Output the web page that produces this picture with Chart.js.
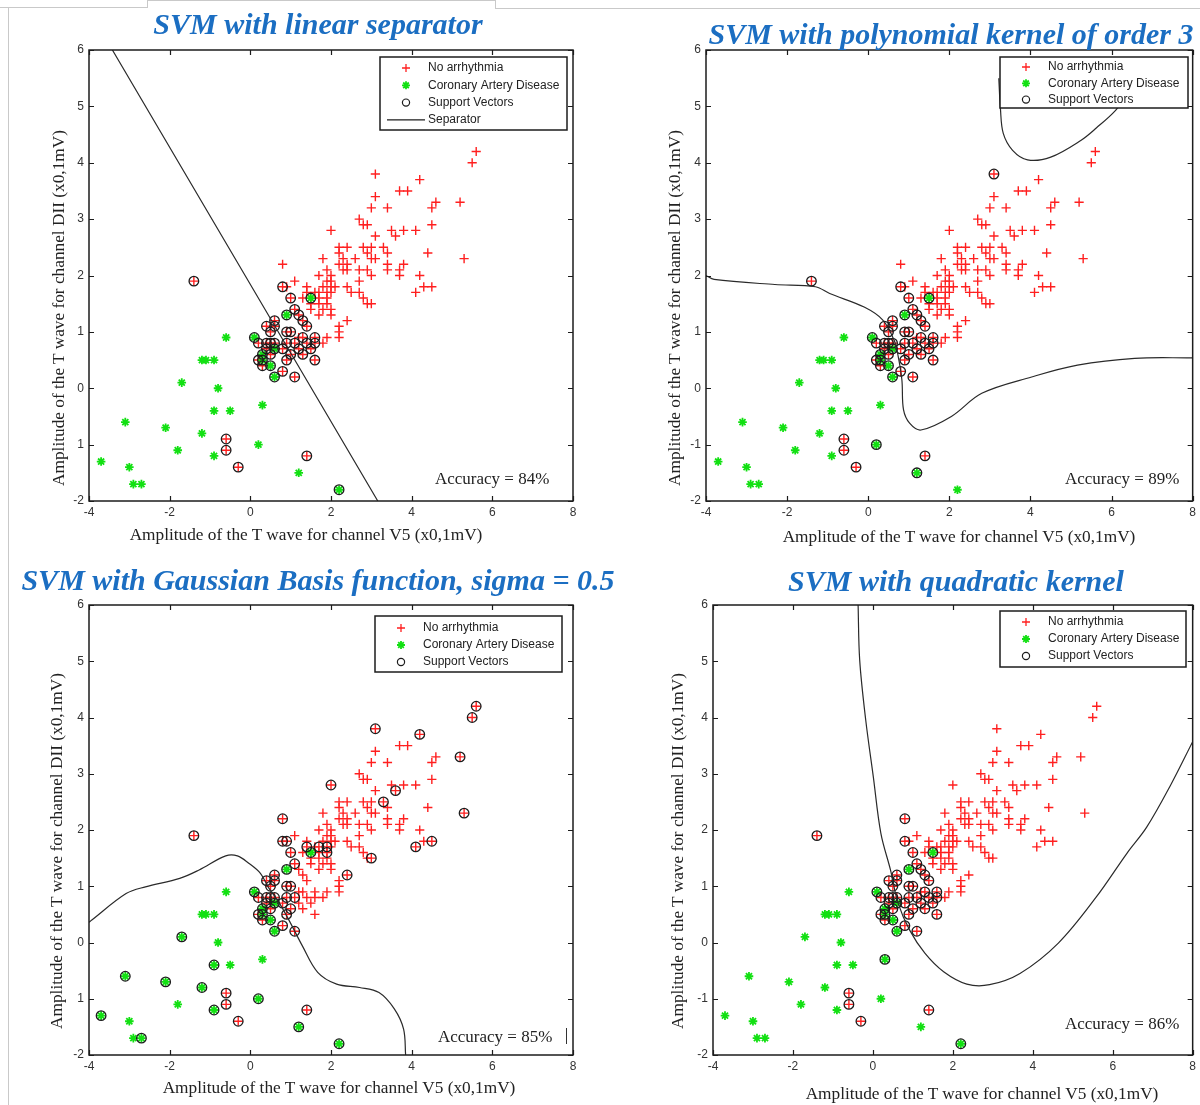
<!DOCTYPE html>
<html>
<head>
<meta charset="utf-8">
<script src="https://cdn.jsdelivr.net/npm/chart.js@4.4.1/dist/chart.umd.min.js"></script>
<style>
  html, body { margin: 0; padding: 0; background: #fff; }
  #page { position: relative; width: 1200px; height: 1105px; overflow: hidden; background: #fff; }
  canvas { position: absolute; left: 0; top: 0; }
  .ttl { position: absolute; width: 700px; text-align: center; font: italic bold 30px "Liberation Serif", "DejaVu Serif", serif; color: #1b6ec2; line-height: 1; white-space: nowrap; }
  .acc { position: absolute; font: 17px "Liberation Serif", serif; color: #222; line-height: 1; white-space: nowrap; }
  .ax { position: absolute; width: 500px; height: 20px; line-height: 20px; text-align: center; font: 17.3px "Liberation Serif", "Times New Roman", serif; color: #222; white-space: nowrap; }
  .ax.v { transform: rotate(-90deg); }
  .frame { position: absolute; background: #c9c9c9; }
</style>
</head>
<body>
<div id="page">
  <canvas id="c1" width="1200" height="1130"></canvas>
  <canvas id="c2" width="1200" height="1130"></canvas>
  <canvas id="c3" width="1200" height="1130"></canvas>
  <canvas id="c4" width="1200" height="1130"></canvas>

  <!-- document frame lines around the screenshot -->
  <div class="frame" style="left:0;top:7px;width:147px;height:1px"></div>
  <div class="frame" style="left:147px;top:0;width:1px;height:8px"></div>
  <div class="frame" style="left:147px;top:0;width:348px;height:1px"></div>
  <div class="frame" style="left:495px;top:0;width:1px;height:8px"></div>
  <div class="frame" style="left:495px;top:8px;width:705px;height:1px"></div>
  <div class="frame" style="left:8px;top:8px;width:1px;height:1097px"></div>

  <div class="ttl" style="left:-32px;top:9px">SVM with linear separator</div>
  <div class="ttl" style="left:601px;top:19px">SVM with polynomial kernel of order 3</div>
  <div class="ttl" style="left:-32px;top:565px">SVM with Gaussian Basis function, sigma = 0.5</div>
  <div class="ttl" style="left:606px;top:566px">SVM with quadratic kernel</div>

  <div class="ax" style="left:56px;top:525px">Amplitude of the T wave for channel V5 (x0,1mV)</div>
  <div class="ax" style="left:709px;top:527px">Amplitude of the T wave for channel V5 (x0,1mV)</div>
  <div class="ax" style="left:89px;top:1078px">Amplitude of the T wave for channel V5 (x0,1mV)</div>
  <div class="ax" style="left:732px;top:1084px">Amplitude of the T wave for channel V5 (x0,1mV)</div>
  <div class="ax v" style="left:-191px;top:298px">Amplitude of the T wave for channel DII (x0,1mV)</div>
  <div class="ax v" style="left:425px;top:298px">Amplitude of the T wave for channel DII (x0,1mV)</div>
  <div class="ax v" style="left:-193px;top:841px">Amplitude of the T wave for channel DII (x0,1mV)</div>
  <div class="ax v" style="left:428px;top:841px">Amplitude of the T wave for channel DII (x0,1mV)</div>

  <div class="acc" style="left:435px;top:470px">Accuracy = 84%</div>
  <div class="acc" style="left:1065px;top:470px">Accuracy = 89%</div>
  <div class="acc" style="left:438px;top:1028px">Accuracy = 85%</div>
  <div style="position:absolute;left:566px;top:1028px;width:1px;height:16px;background:#333"></div>
  <div class="acc" style="left:1065px;top:1015px">Accuracy = 86%</div>
</div>
<script>
// ====== DATA ======
// No arrhythmia (red +)
const noArrhythmia = [
  [5.6,4.2],[5.5,4.0],[3.1,3.8],[4.2,3.7],[3.7,3.5],[3.9,3.5],[3.1,3.4],[4.6,3.3],[5.2,3.3],[3.0,3.2],[3.4,3.2],[4.5,3.2],
  [2.7,3.0],[2.8,2.9],[2.9,2.9],[4.5,2.9],[2.0,2.8],[3.5,2.8],[3.8,2.8],[4.1,2.8],[3.1,2.7],[3.6,2.7],
  [2.2,2.5],[2.4,2.5],[2.8,2.5],[3.0,2.5],[3.3,2.5],[2.2,2.4],[2.9,2.4],[3.4,2.4],[4.4,2.4],
  [1.8,2.3],[2.3,2.3],[2.6,2.3],[3.0,2.3],[3.1,2.3],[5.3,2.3],
  [0.8,2.2],[2.2,2.2],[2.4,2.2],[3.4,2.2],[3.8,2.2],
  [1.9,2.1],[2.3,2.1],[2.4,2.1],[2.7,2.1],[2.9,2.1],[3.4,2.1],[3.7,2.1],
  [1.7,2.0],[2.0,2.0],[3.0,2.0],[3.7,2.0],[4.2,2.0],
  [1.1,1.9],[1.9,1.9],[2.0,1.9],[2.7,1.9],
  [0.8,1.8],[0.9,1.8],[1.4,1.8],[1.8,1.8],[2.0,1.8],[2.1,1.8],[2.4,1.8],[4.3,1.8],[4.5,1.8],
  [1.4,1.7],[1.6,1.7],[1.7,1.7],[1.9,1.7],[2.0,1.7],[2.5,1.7],[2.7,1.7],[4.1,1.7],
  [1.0,1.6],[1.3,1.6],[1.7,1.6],[1.9,1.6],[2.8,1.6],
  [1.5,1.5],[1.7,1.5],[1.9,1.5],[2.9,1.5],[3.0,1.5],
  [1.1,1.4],[1.5,1.4],[1.8,1.4],[2.0,1.4],
  [1.2,1.3],[1.7,1.3],[2.0,1.3],
  [0.6,1.2],[1.3,1.2],[2.4,1.2],
  [0.4,1.1],[0.6,1.1],[1.4,1.1],[2.2,1.1],
  [0.5,1.0],[0.9,1.0],[1.0,1.0],[2.2,1.0],
  [1.2,0.9],[1.3,0.9],[1.6,0.9],[1.9,0.9],[2.2,0.9],
  [0.2,0.8],[0.4,0.8],[0.5,0.8],[0.6,0.8],[0.9,0.8],[1.1,0.8],[1.4,0.8],[1.6,0.8],[1.8,0.8],
  [0.4,0.7],[0.8,0.7],[1.2,0.7],[1.5,0.7],
  [0.5,0.6],[1.0,0.6],[1.3,0.6],
  [0.2,0.5],[0.9,0.5],[1.6,0.5],
  [0.3,0.4],[0.8,0.3],[1.1,0.2],
  [-1.4,1.9],[-0.6,-0.9],[-0.6,-1.1],[-0.3,-1.4],[1.4,-1.2]
];

// Coronary Artery Disease (green *)
const coronary = [
  [-0.6,0.9],[-1.2,0.5],[-1.1,0.5],[-0.9,0.5],[-1.7,0.1],[-0.8,0.0],[-0.9,-0.4],[-0.5,-0.4],[0.3,-0.3],
  [-3.1,-0.6],[-2.1,-0.7],[-1.2,-0.8],[0.2,-1.0],[-1.8,-1.1],[-0.9,-1.2],[-3.7,-1.3],[-3.0,-1.4],
  [-2.9,-1.7],[-2.7,-1.7],[1.2,-1.5],[2.2,-1.8],
  [0.1,0.9],[0.6,0.7],[0.3,0.6],[0.3,0.5],[0.5,0.4],[0.6,0.2],[0.9,1.3],[1.5,1.6]
];

// Support vectors shared by the panels
const svCoreRed = [
  [0.8,1.8],[1.0,1.6],[1.1,1.4],[0.6,1.2],[0.4,1.1],[0.6,1.1],[0.5,1.0],[0.9,1.0],[1.0,1.0],
  [0.2,0.8],[0.4,0.8],[0.5,0.8],[0.6,0.8],[0.9,0.8],[1.1,0.8],[0.4,0.7],[0.8,0.7],
  [0.5,0.6],[1.0,0.6],[0.2,0.5],[0.9,0.5],[0.3,0.4],[0.8,0.3],[1.1,0.2]
];
const svRightRed = [
  [1.2,1.3],[1.3,1.2],[1.4,1.1],[1.3,0.9],[1.6,0.9],[1.4,0.8],[1.6,0.8],[1.2,0.7],[1.5,0.7],[1.3,0.6],[1.6,0.5]
];
const svClusterCad = [[0.1,0.9],[0.6,0.7],[0.3,0.6],[0.3,0.5],[0.5,0.4],[0.6,0.2],[0.9,1.3],[1.5,1.6]];
const svLowRed = [[-1.4,1.9],[-0.6,-0.9],[-0.6,-1.1],[-0.3,-1.4],[1.4,-1.2]];

// Panel specific support vectors
const svLinearExtra = [[2.2,-1.8]];
const svPolyExtra = [[3.1,3.8],[0.2,-1.0],[1.2,-1.5]];
const svGaussExtra = [
  [5.6,4.2],[5.5,4.0],[3.1,3.8],[4.2,3.7],[5.2,3.3],[2.0,2.8],[3.6,2.7],[3.3,2.5],[5.3,2.3],[0.8,2.2],
  [4.1,1.7],[4.5,1.8],[3.0,1.5],[2.4,1.2],[0.9,1.8],[1.4,1.7],[1.7,1.7],[1.9,1.7],[1.9,1.6],
  [-1.7,0.1],[-0.9,-0.4],[-3.1,-0.6],[-2.1,-0.7],[-1.2,-0.8],[0.2,-1.0],[-0.9,-1.2],[-3.7,-1.3],
  [-2.7,-1.7],[1.2,-1.5],[2.2,-1.8]
];
const svQuadExtra = [[0.8,2.2],[0.3,-0.3],[2.2,-1.8]];

// Decision boundaries
const sepLinear = [[-3.42,6],[3.16,-2]];
const sepPolyLow = [
  [-4,2.0],[-3.8,1.93],[-2.3,1.84],[-1.3,1.8],[-0.95,1.68],[-0.1,1.44],[0.36,1.21],[0.64,0.85],
  [0.74,0.56],[0.83,0.15],[0.87,-0.38],[1.02,-0.62],[1.3,-0.74],[2.05,-0.5],[2.8,-0.09],
  [4.03,0.2],[5.16,0.41],[6.57,0.53],[8,0.54]
];
const sepPolyHigh = [
  [3.22,5.5],[3.26,4.96],[3.33,4.52],[3.56,4.22],[3.93,4.05],[4.5,4.1],[5.25,4.4],[5.63,4.62],[6.1,4.93],[6.5,5.3]
];
const sepGauss = [
  [-4,0.36],[-3.93,0.4],[-3.08,0.87],[-2.6,0.99],[-1.75,1.14],[-1.27,1.29],[-0.61,1.54],[-0.32,1.54],
  [-0.04,1.41],[0.25,1.23],[0.44,0.99],[0.72,0.7],[1.0,0.34],[1.29,-0.06],[1.67,-0.53],[2.14,-0.74],
  [2.71,-0.8],[3.19,-0.89],[3.57,-1.18],[3.8,-1.54],[3.85,-2]
];
const sepQuad = [
  [-0.37,6],[-0.33,5.02],[-0.18,3.96],[0.01,2.95],[0.2,1.94],[0.44,1.29],[0.63,0.7],[0.92,0.22],
  [1.3,-0.19],[1.77,-0.52],[2.35,-0.74],[2.92,-0.75],[3.68,-0.55],[4.64,-0.01],[5.59,0.81],
  [6.36,1.59],[6.85,2.05],[7.45,2.8],[8,3.57]
];

const xTicks = [-4, -2, 0, 2, 4, 6, 8];
const yTicks = [-2, -1, 0, 1, 2, 3, 4, 5, 6];
const legendLabels = {
  red: "No arrhythmia",
  green: "Coronary Artery Disease",
  sv: "Support Vectors",
  sep: "Separator",
};
// ========================================

const RED = "#ff1f1f";
const GREEN = "#12e012";
const INK = "#1c1c1c";
const CANVAS_W = 1200;
const CANVAS_H = 1130;
const TICK = 5;
const Y_AXIS_W = 40;
const X_AXIS_H = 30;

function pts(arr) {
  return arr.map(([x, y]) => ({ x, y }));
}

function drawMarker(ctx, kind, x, y) {
  ctx.save();
  if (kind === "red" || kind === "green") {
    ctx.strokeStyle = kind === "red" ? RED : GREEN;
    ctx.lineWidth = kind === "red" ? 1.3 : 1.8;
    const r = 4;
    ctx.beginPath();
    ctx.moveTo(x - r, y); ctx.lineTo(x + r, y);
    ctx.moveTo(x, y - r); ctx.lineTo(x, y + r);
    if (kind === "green") {
      const d = r * 0.7;
      ctx.moveTo(x - d, y - d); ctx.lineTo(x + d, y + d);
      ctx.moveTo(x - d, y + d); ctx.lineTo(x + d, y - d);
    }
    ctx.stroke();
  } else if (kind === "sv") {
    ctx.strokeStyle = INK;
    ctx.lineWidth = 1.2;
    ctx.beginPath();
    ctx.arc(x, y, 3.6, 0, Math.PI * 2);
    ctx.stroke();
  } else if (kind === "sep") {
    ctx.strokeStyle = INK;
    ctx.lineWidth = 1.2;
    ctx.beginPath();
    ctx.moveTo(x - 19, y); ctx.lineTo(x + 19, y);
    ctx.stroke();
  }
  ctx.restore();
}

// Box with inward tick marks on all four sides (MATLAB style)
const frameTicks = {
  id: "frameTicks",
  afterDatasetsDraw(chart) {
    const { ctx, chartArea: a, scales } = chart;
    const x = scales.x, y = scales.y;
    ctx.save();
    ctx.strokeStyle = INK;
    ctx.lineWidth = 1.5;
    ctx.strokeRect(a.left, a.top, a.right - a.left, a.bottom - a.top);
    ctx.lineWidth = 1.2;
    ctx.beginPath();
    for (const t of x.ticks) {
      const px = Math.round(x.getPixelForValue(t.value)) + 0.5;
      ctx.moveTo(px, a.bottom); ctx.lineTo(px, a.bottom - TICK);
      ctx.moveTo(px, a.top); ctx.lineTo(px, a.top + TICK);
    }
    for (const t of y.ticks) {
      const py = Math.round(y.getPixelForValue(t.value)) + 0.5;
      ctx.moveTo(a.left, py); ctx.lineTo(a.left + TICK, py);
      ctx.moveTo(a.right, py); ctx.lineTo(a.right - TICK, py);
    }
    ctx.stroke();
    ctx.restore();
  },
};

// Boxed legend placed inside the axes
const boxLegend = {
  id: "boxLegend",
  afterDraw(chart, args, opts) {
    const { ctx } = chart;
    const { x, y, w, h, rows, first, step } = opts;
    ctx.save();
    ctx.fillStyle = "#fff";
    ctx.fillRect(x, y, w, h);
    ctx.strokeStyle = INK;
    ctx.lineWidth = 1.5;
    ctx.strokeRect(x, y, w, h);
    ctx.font = '12px "Liberation Sans", Arial, sans-serif';
    ctx.textBaseline = "middle";
    rows.forEach((key, i) => {
      const cy = y + first + i * step;
      drawMarker(ctx, key, x + 26, cy);
      ctx.fillStyle = "#222";
      ctx.fillText(legendLabels[key], x + 48, cy);
    });
    ctx.restore();
  },
};

const panels = [
  {
    id: "c1", area: { l: 89, t: 50, r: 573, b: 501 }, dropMinus: true,
    sv: [...svCoreRed, ...svRightRed, ...svClusterCad, ...svLowRed, ...svLinearExtra],
    seps: [sepLinear],
    legend: { x: 380, y: 57, w: 187, h: 73, first: 11, step: 17.3, rows: ["red", "green", "sv", "sep"] },
  },
  {
    id: "c2", area: { l: 706, t: 50, r: 1194, b: 501 }, dropMinus: false,
    sv: [...svCoreRed, ...svRightRed, ...svClusterCad, ...svLowRed, ...svPolyExtra],
    seps: [sepPolyLow, sepPolyHigh],
    legend: { x: 1000, y: 57, w: 188, h: 51, first: 10, step: 16.3, rows: ["red", "green", "sv"] },
  },
  {
    id: "c3", area: { l: 89, t: 605, r: 573, b: 1055 }, dropMinus: true,
    sv: [...svCoreRed, ...svClusterCad, ...svLowRed, ...svGaussExtra],
    seps: [sepGauss],
    legend: { x: 375, y: 616, w: 187, h: 56, first: 12, step: 17, rows: ["red", "green", "sv"] },
  },
  {
    id: "c4", area: { l: 713, t: 605, r: 1194, b: 1055 }, dropMinus: false,
    sv: [...svCoreRed, ...svRightRed, ...svClusterCad, ...svLowRed, ...svQuadExtra],
    seps: [sepQuad],
    legend: { x: 1000, y: 611, w: 186, h: 56, first: 11, step: 17, rows: ["red", "green", "sv"] },
  },
];

const TICK_FONT = { family: '"Liberation Sans", Arial, sans-serif', size: 12 };

for (const p of panels) {
  const datasets = p.seps.map((s) => ({
    label: "Separator",
    data: pts(s),
    showLine: true,
    pointRadius: 0,
    borderColor: "#2a2a2a",
    borderWidth: 1.2,
    tension: 0.35,
    order: 0,
  }));
  datasets.push(
    {
      label: "Support Vectors",
      data: pts(p.sv),
      pointStyle: "circle",
      pointRadius: 4.8,
      pointBorderColor: INK,
      pointBackgroundColor: "rgba(0,0,0,0)",
      pointBorderWidth: 1.3,
      order: 1,
    },
    {
      label: "Coronary Artery Disease",
      data: pts(coronary),
      pointStyle: "star",
      pointRadius: 4.3,
      pointBorderColor: GREEN,
      pointBorderWidth: 1.8,
      order: 2,
    },
    {
      label: "No arrhythmia",
      data: pts(noArrhythmia),
      pointStyle: "cross",
      pointRadius: 4.6,
      pointBorderColor: RED,
      pointBorderWidth: 1.4,
      order: 3,
    }
  );

  new Chart(document.getElementById(p.id), {
    type: "scatter",
    data: { datasets },
    options: {
      responsive: false,
      animation: false,
      devicePixelRatio: 1,
      layout: {
        padding: {
          left: p.area.l - Y_AXIS_W,
          top: p.area.t,
          right: CANVAS_W - p.area.r,
          bottom: CANVAS_H - p.area.b - X_AXIS_H,
        },
      },
      plugins: {
        legend: { display: false },
        tooltip: { enabled: false },
        boxLegend: p.legend,
      },
      scales: {
        x: {
          type: "linear",
          min: -4,
          max: 8,
          afterBuildTicks: (s) => { s.ticks = xTicks.map((v) => ({ value: v })); },
          afterFit: (s) => { s.height = X_AXIS_H; },
          ticks: { font: TICK_FONT, color: "#333", padding: 4, maxRotation: 0, autoSkip: false },
          grid: { display: false, drawTicks: false },
          border: { display: false },
        },
        y: {
          type: "linear",
          min: -2,
          max: 6,
          afterBuildTicks: (s) => { s.ticks = yTicks.map((v) => ({ value: v })); },
          afterFit: (s) => { s.width = Y_AXIS_W; },
          ticks: {
            font: TICK_FONT,
            color: "#333",
            padding: 5,
            autoSkip: false,
            // the source figure lost the minus sign on -1 in the left-hand panels
            callback: (v) => (p.dropMinus && v === -1 ? "1" : String(v)),
          },
          grid: { display: false, drawTicks: false },
          border: { display: false },
        },
      },
    },
    plugins: [frameTicks, boxLegend],
  });
}
</script>
</body>
</html>
